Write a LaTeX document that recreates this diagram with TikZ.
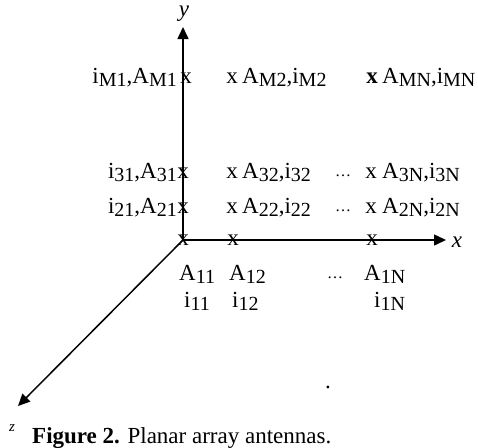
\documentclass[tikz,border=0pt]{standalone}
\usepackage{fontspec}
\setmainfont{Liberation Serif}
\usepackage{tikz}
\usetikzlibrary{arrows.meta}

\newcommand{\sbs}[1]{\raisebox{-3pt}{\fontsize{20}{20}\selectfont #1}}
\newcommand{\dts}{{\fontsize{16}{16}\selectfont\raisebox{2pt}{\ldots}}}

\begin{document}
\begin{tikzpicture}[
  x=1pt, y=-1pt,
  lbl/.style={inner sep=0pt, font=\fontsize{23}{27}\selectfont},
  cross/.style={lbl, anchor=base},
  axlbl/.style={inner sep=0pt, font=\fontsize{23}{27}\selectfont\itshape},
  axis/.style={-{Triangle[length=12pt, width=11pt]}, line width=1.5pt}
]
  \useasboundingbox (0,0) rectangle (478,447);

  \coordinate (O) at (183,240);
  \coordinate (ytip) at (183,27);
  \coordinate (xtip) at (446,240);
  \coordinate (ztip) at (18,406);

  \draw[axis] (O) -- (ytip);
  \draw[axis] (O) -- (xtip);
  \draw[axis] (O) -- (ztip);

  \node[axlbl] (ylab) at (184,14) {y};
  \node[axlbl] (xlab) at (457,242) {x};
  \node[axlbl, font=\fontsize{15}{17}\selectfont\itshape] (zlab) at (12,428) {z};

  \foreach \nm/\px/\py in {mM1/186/83, mM2/232/83,
                           m31/183/178, m32/232/178, m3N/371/178,
                           m21/183/213, m22/232/213, m2N/371/213,
                           m11/183/245, m12/233/245, m1N/372/245}
    \node[cross] (\nm) at (\px,\py) {x};
  \node[cross, font=\fontsize{23}{27}\selectfont\bfseries] (mMN) at (372,83) {x};

  \node[lbl, anchor=base east] (lM1) at (177,83) {i\sbs{M1},A\sbs{M1}};
  \node[lbl, anchor=base west] (lM2) at (242,83) {A\sbs{M2},i\sbs{M2}};
  \node[lbl, anchor=base west] (lMN) at (382,83) {A\sbs{MN},i\sbs{MN}};

  \node[lbl, anchor=base east] (l31) at (177,178) {i\sbs{31},A\sbs{31}};
  \node[lbl, anchor=base west] (l32) at (242,178) {A\sbs{32},i\sbs{32}};
  \node[lbl, anchor=base] (d3) at (343,178) {\dts};
  \node[lbl, anchor=base west] (l3N) at (382,178) {A\sbs{3N},i\sbs{3N}};

  \node[lbl, anchor=base east] (l21) at (177,213) {i\sbs{21},A\sbs{21}};
  \node[lbl, anchor=base west] (l22) at (242,213) {A\sbs{22},i\sbs{22}};
  \node[lbl, anchor=base] (d2) at (343,213) {\dts};
  \node[lbl, anchor=base west] (l2N) at (382,213) {A\sbs{2N},i\sbs{2N}};

  \node[lbl, anchor=base west] (a11) at (179,280) {A\sbs{11}};
  \node[lbl, anchor=base west] (a12) at (229,280) {A\sbs{12}};
  \node[lbl, anchor=base] (d1) at (335,280) {\dts};
  \node[lbl, anchor=base west] (a1N) at (364,280) {A\sbs{1N}};
  \node[lbl, anchor=base west] (i11) at (184,307) {i\sbs{11}};
  \node[lbl, anchor=base west] (i12) at (232,307) {i\sbs{12}};
  \node[lbl, anchor=base west] (i1N) at (374,307) {i\sbs{1N}};

  \node[lbl, anchor=base] (dot) at (328,388) {.};

  \node[lbl, anchor=base west] (cap) at (32,443) {\textbf{Figure 2.} Planar array antennas.};
\end{tikzpicture}
\end{document}
